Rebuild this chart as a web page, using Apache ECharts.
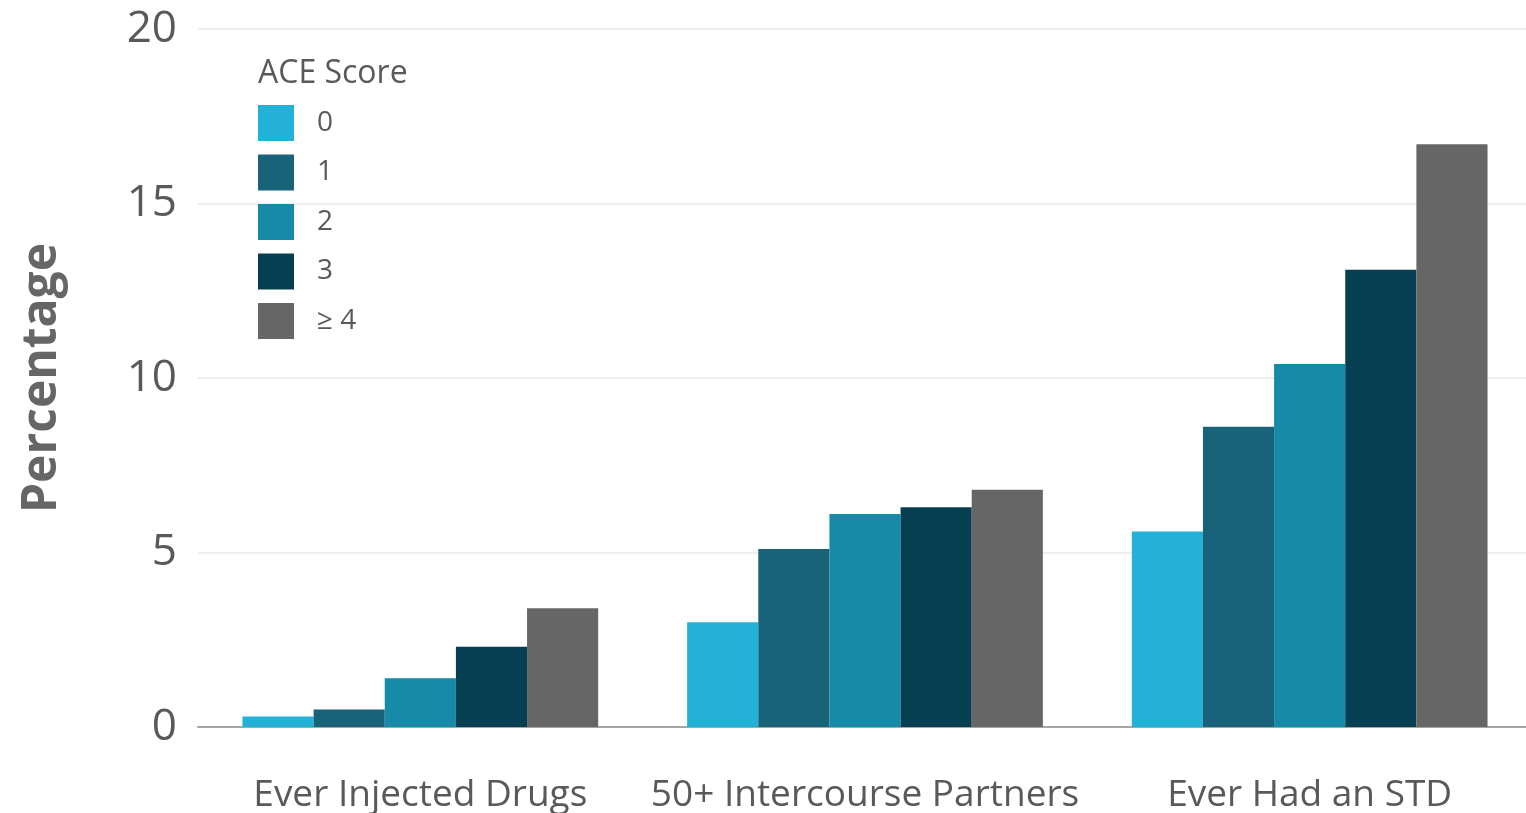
<!DOCTYPE html>
<html>
<head>
<meta charset="utf-8">
<script src="https://cdn.jsdelivr.net/npm/echarts@6/dist/echarts.min.js"></script>
<style>
  html, body { margin: 0; padding: 0; background: #fff; }
  #chart { width: 1526px; height: 813px; }
</style>
</head>
<body>
<div id="chart"></div>
<script>
// categories and ACE score groups
const categories = ['Ever Injected Drugs', '50+ Intercourse Partners', 'Ever Had an STD']
const scoreNames = ['0', '1', '2', '3', '≥ 4']
const yTicks = [0, 5, 10, 15, 20]

// percentages per ACE score
const score0 = [0.3, 3.0, 5.6]
const score1 = [0.5, 5.1, 8.6]
const score2 = [1.4, 6.1, 10.4]
const score3 = [2.3, 6.3, 13.1]
const score4 = [3.4, 6.8, 16.7]

const colors = ['#23b1d7', '#18627a', '#168aa7', '#063f51', '#666666']
const seriesData = [score0, score1, score2, score3, score4]

const textColor = '#595959'
const fontFamily = '"Open Sans", sans-serif'

const chart = echarts.init(document.getElementById('chart'))

chart.setOption({
  animation: false,
  title: {
    text: 'ACE Score',
    left: 253,
    top: 53,
    textStyle: { fontFamily, fontSize: 32, fontWeight: 'normal', color: textColor }
  },
  legend: {
    data: scoreNames,
    orient: 'vertical',
    left: 253,
    top: 100,
    itemWidth: 36,
    itemHeight: 36,
    itemGap: 13.5,
    icon: 'rect',
    textStyle: { fontFamily, fontSize: 28, color: textColor, padding: [0, 0, 0, 18] }
  },
  grid: {
    left: 198,
    right: -6,
    top: 29,
    bottom: 86,
    outerBoundsMode: 'none'
  },
  xAxis: {
    type: 'category',
    data: categories,
    axisTick: { show: false },
    axisLine: { lineStyle: { color: '#a6a6a6', width: 2 } },
    axisLabel: { fontFamily, fontSize: 37, color: textColor, margin: 50, interval: 0, hideOverlap: false }
  },
  yAxis: {
    type: 'value',
    min: yTicks[0],
    max: yTicks[yTicks.length - 1],
    interval: 5,
    name: 'Percentage',
    nameLocation: 'middle',
    nameGap: 132,
    nameTextStyle: {
      fontFamily,
      fontSize: 48,
      fontWeight: 'bold',
      color: '#666666'
    },
    axisLine: { show: false },
    axisTick: { show: false },
    axisLabel: { fontFamily, fontSize: 44, color: textColor, margin: 21 },
    splitLine: { lineStyle: { color: '#eeeeee', width: 2 } }
  },
  series: seriesData.map((d, i) => ({
    name: scoreNames[i],
    type: 'bar',
    data: d,
    barGap: '0%',
    barCategoryGap: '20%',
    itemStyle: { color: colors[i] }
  }))
})

window.addEventListener('resize', () => {
  chart.resize()
})
</script>
</body>
</html>
